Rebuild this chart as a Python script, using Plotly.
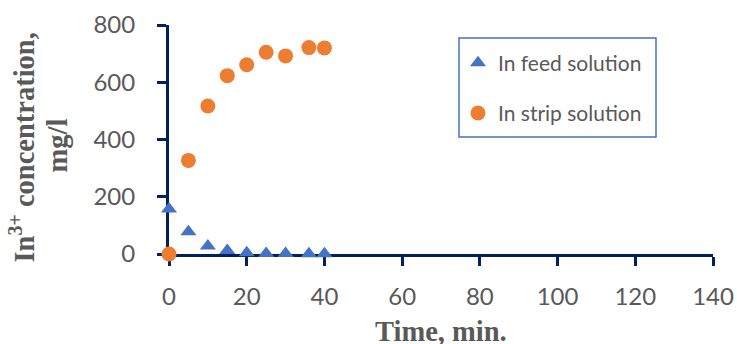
import plotly.graph_objects as go

time_min = [0, 5, 10, 15, 20, 25, 30, 36, 40]
feed_conc = [157, 78, 28, 12, 4, 2, 2, 1, 1]
strip_conc = [0, 327, 517, 623, 661, 705, 692, 721, 720]

x_ticks = [0, 20, 40, 60, 80, 100, 120, 140]
y_ticks = [0, 200, 400, 600, 800]

navy = "#002060"
grey = "#595959"
tick_font = dict(family="Lato", size=24, color=grey)
title_font = dict(family="Liberation Serif", size=28.5, color=grey)

fig = go.Figure()
fig.add_trace(go.Scatter(
    x=time_min, y=feed_conc, mode="markers", name="In feed solution",
    legendgroup="a",
    marker=dict(symbol="triangle-up", size=14, color="#4472C4"),
    cliponaxis=False,
))
fig.add_trace(go.Scatter(
    x=time_min, y=strip_conc, mode="markers", name="In strip solution",
    legendgroup="b",
    marker=dict(symbol="circle", size=15, color="#ED7D31"),
    cliponaxis=False,
))

axis_common = dict(
    showgrid=False, zeroline=False, showline=True, linecolor=navy, linewidth=3,
    ticks="outside", ticklen=9, tickwidth=3, tickcolor=navy,
    tickfont=tick_font, layer="below traces", automargin=False,
)
fig.update_xaxes(range=[0, 140], tickvals=x_ticks, ticklabelstandoff=10, **axis_common)
fig.update_yaxes(range=[0, 800], tickvals=y_ticks, ticklabelstandoff=17, **axis_common)

PX0, PW, PY0, PH = 169, 544, 254, 229  # plot area in window pixels


def px(xp):
    return (xp - PX0) / PW


def py(yp):
    return (PY0 - yp) / PH


fig.add_annotation(
    text="<b>In<sup>3+</sup> concentration,</b>", textangle=-90,
    xref="paper", yref="paper", x=px(22), y=py(147.5),
    xanchor="center", yanchor="middle", showarrow=False, font=title_font,
)
fig.add_annotation(
    text="<b>mg/l</b>", textangle=-90,
    xref="paper", yref="paper", x=px(57), y=py(145.5),
    xanchor="center", yanchor="middle", showarrow=False, font=title_font,
)
fig.add_annotation(
    text="<b>Time, min.</b>",
    xref="paper", yref="paper", x=0.5, y=py(331),
    xanchor="center", yanchor="middle", showarrow=False, font=title_font,
)

# legend frame
fig.add_shape(
    type="rect", xref="paper", yref="paper",
    x0=px(459), x1=px(656), y0=py(137), y1=py(38),
    line=dict(color="#4472C4", width=1.5), fillcolor="white", layer="below",
)

fig.update_layout(
    width=737, height=344,
    margin=dict(l=169, r=24, t=25, b=90),
    plot_bgcolor="white", paper_bgcolor="white",
    showlegend=True,
    legend=dict(
        x=px(458), y=py(42.5), xanchor="left", yanchor="top",
        borderwidth=0, bgcolor="rgba(0,0,0,0)",
        font=dict(family="Lato", size=21, color=grey),
        tracegroupgap=20, itemwidth=30,
    ),
)

fig.write_html(
    "out.html",
    config={"displayModeBar": False},
    post_script="document.body.style.margin='0';document.body.style.overflow='hidden';",
)
